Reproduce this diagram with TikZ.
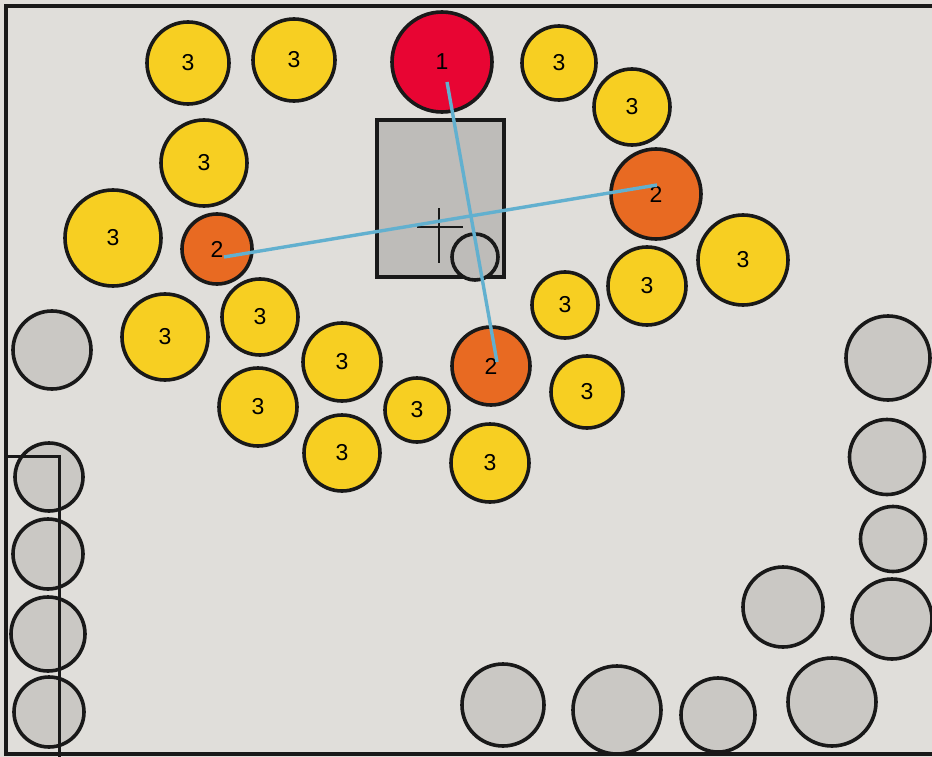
\documentclass[tikz,border=0pt]{standalone}
\usepackage{fontspec}
\setsansfont{Liberation Sans}
\usetikzlibrary{calc}

\definecolor{floor}{HTML}{E0DEDA}
\definecolor{seatred}{HTML}{E80533}
\definecolor{seatorange}{HTML}{E86A22}
\definecolor{seatyellow}{HTML}{F7CF22}
\definecolor{sparegray}{HTML}{CAC8C4}
\definecolor{tablegray}{HTML}{BEBCB9}
\definecolor{linkblue}{HTML}{62B0CF}

\begin{document}
\begin{tikzpicture}[x=1pt, y=-1pt,
    seat/.style={circle, draw=black!90, line width=3.6pt, inner sep=0pt,
                 font=\sffamily\fontsize{23}{23}\selectfont},
    seatone/.style={seat, fill=seatred},
    seattwo/.style={seat, fill=seatorange},
    seatthree/.style={seat, fill=seatyellow},
    spare/.style={seat, fill=sparegray},
    link/.style={draw=linkblue, line width=3.4pt},
    wall/.style={draw=black!90, line width=4pt}]
                \useasboundingbox (0,0) rectangle (932,757);
                \fill[floor] (0,0) rectangle (932,757);
                % walls
                \draw[wall] (940,6) -- (6,6) -- (6,754) -- (940,754);
                % table
                \draw[fill=tablegray, draw=black!90, line width=3.4pt] (377,120) rectangle (504,277);
                \draw[black!90, line width=2.6pt] (439,208) -- (439,263);
                \draw[black!90, line width=2.6pt] (417,227) -- (463,227);
                \node[spare, minimum size=46pt, fill=tablegray] (tc) at (475,257) {};
                % seats
                \node[seatone, minimum size=100pt] (s1) at (442,62) {1};
                \node[seattwo, minimum size=70pt] (s2a) at (217,249) {2};
                \node[seattwo, minimum size=90pt] (s2b) at (656,194) {2};
                \node[seattwo, minimum size=78pt] (s2c) at (491,366) {2};
                \node[seatthree, minimum size=82pt] (s3a) at (188,63) {3};
                \node[seatthree, minimum size=82pt] (s3b) at (294,60) {3};
                \node[seatthree, minimum size=74pt] (s3c) at (559,63) {3};
                \node[seatthree, minimum size=76pt] (s3d) at (632,107) {3};
                \node[seatthree, minimum size=86pt] (s3e) at (204,163) {3};
                \node[seatthree, minimum size=96pt] (s3f) at (113,238) {3};
                \node[seatthree, minimum size=90pt] (s3g) at (743,260) {3};
                \node[seatthree, minimum size=78pt] (s3h) at (647,286) {3};
                \node[seatthree, minimum size=66pt] (s3i) at (565,305) {3};
                \node[seatthree, minimum size=86pt] (s3j) at (165,337) {3};
                \node[seatthree, minimum size=76pt] (s3k) at (260,317) {3};
                \node[seatthree, minimum size=78pt] (s3l) at (342,362) {3};
                \node[seatthree, minimum size=78pt] (s3m) at (258,407) {3};
                \node[seatthree, minimum size=64pt] (s3n) at (417,410) {3};
                \node[seatthree, minimum size=76pt] (s3o) at (342,453) {3};
                \node[seatthree, minimum size=78pt] (s3p) at (490,463) {3};
                \node[seatthree, minimum size=72pt] (s3q) at (587,392) {3};
                % spare chairs
                \node[spare, minimum size=78pt] (g1) at (52,350) {};
                \node[spare, minimum size=68pt] (g2) at (49,477) {};
                \node[spare, minimum size=70pt] (g3) at (48,554) {};
                \node[spare, minimum size=74pt] (g4) at (48,634) {};
                \node[spare, minimum size=70pt] (g5) at (49,712) {};
                \node[spare, minimum size=84pt] (g6) at (888,358) {};
                \node[spare, minimum size=75pt] (g7) at (887,457) {};
                \node[spare, minimum size=65pt] (g8) at (893,539) {};
                \node[spare, minimum size=80pt] (g9) at (892,619) {};
                \node[spare, minimum size=80pt] (g10) at (783,607) {};
                \node[spare, minimum size=88pt] (g11) at (832,702) {};
                \node[spare, minimum size=74pt] (g12) at (718,715) {};
                \node[spare, minimum size=88pt] (g13) at (617,710) {};
                \node[spare, minimum size=82pt] (g14) at (503,705) {};
                % stage corner, over the chairs
                \draw[black!90, line width=3pt] (8,456) -- (59,456) -- (59,760);
                % sight lines
                \coordinate (A) at (447,82);
                \coordinate (B) at (497,362);
                \coordinate (C) at (224,257);
                \coordinate (D) at (657,185);
                \draw[link] (A) -- (B);
                \draw[link] (C) -- (D);
\end{tikzpicture}
\end{document}
